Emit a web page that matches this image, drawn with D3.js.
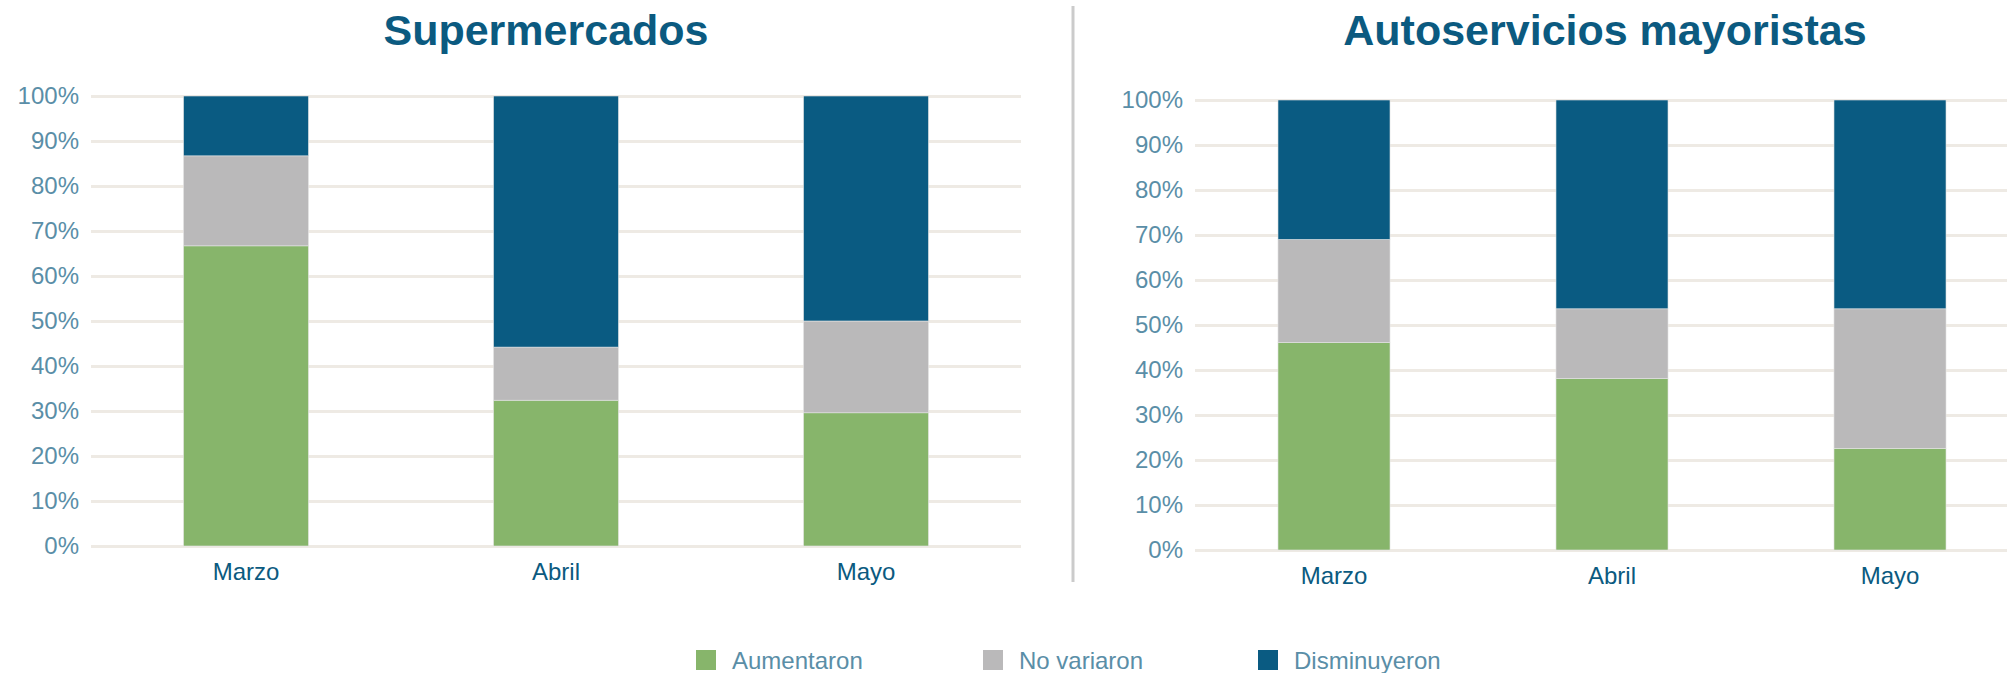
<!DOCTYPE html>
<html>
<head>
<meta charset="utf-8">
<script src="https://cdn.jsdelivr.net/npm/d3@7"></script>
<style>
  body { margin: 0; background: #fff; }
  svg text { font-family: "Liberation Sans", Arial, Helvetica, sans-serif; }
  .tick line { stroke: #eeeae4; stroke-width: 3; }
  .domain { display: none; }
</style>
</head>
<body>
<div id="chart"></div>
<script>
/* DATA */
const months = ["Marzo", "Abril", "Mayo"];
const seriesNames = ["Aumentaron", "No variaron", "Disminuyeron"];
const yTicks = [0, 10, 20, 30, 40, 50, 60, 70, 80, 90, 100];

// Supermercados (% of answers)
const superAumentaron = [66.7, 32.4, 29.6];
const superNoVariaron = [20.0, 11.8, 20.4];
const superDisminuyeron = [13.3, 55.8, 50.0];

// Autoservicios mayoristas
const mayorAumentaron = [46.1, 38.1, 22.6];
const mayorNoVariaron = [22.9, 15.5, 31.0];
const mayorDisminuyeron = [31.0, 46.4, 46.4];

/* CONSTANTS */
const width = 2007, height = 673;
const colors = ["#87b56b", "#bab9ba", "#0a5b82"];
const tickColor = "#5a8ea7";
const darkBlue = "#0b5a80";

const svg = d3.select("#chart")
  .append("svg")
    .attr("width", width)
    .attr("height", height);

const color = d3.scaleOrdinal().domain(seriesNames).range(colors);

function toRows(a, b, c) {
  return months.map((m, i) => ({
    month: m,
    "Aumentaron": a[i],
    "No variaron": b[i],
    "Disminuyeron": c[i]
  }));
}

function drawPanel(cfg) {
  const rows = toRows(cfg.a, cfg.b, cfg.c);
  const stacked = d3.stack().keys(seriesNames)(rows);

  const x = d3.scaleBand()
    .domain(months)
    .range([cfg.x0, cfg.x1])
    .paddingInner(0.597)
    .paddingOuter(0.2985);

  const y = d3.scaleLinear()
    .domain([0, 100])
    .range([cfg.y0, cfg.y1]);

  const g = svg.append("g");

  // gridlines + y labels
  g.append("g")
    .attr("transform", `translate(${cfg.x0},0)`)
    .call(d3.axisLeft(y)
      .tickValues(yTicks)
      .tickSize(-(cfg.x1 - cfg.x0))
      .tickPadding(12)
      .tickFormat(d => d + "%"))
    .call(ax => ax.selectAll("text")
      .attr("fill", tickColor)
      .style("font-size", "24px"));

  // bars
  g.append("g")
    .selectAll("g")
    .data(stacked)
    .join("g")
      .attr("fill", d => color(d.key))
    .selectAll("rect")
    .data(d => d)
    .join("rect")
      .attr("x", d => x(d.data.month))
      .attr("width", x.bandwidth())
      .attr("y", d => y(d[1]))
      .attr("height", d => y(d[0]) - y(d[1]))
      .attr("stroke", "#e4e4e4")
      .attr("stroke-width", 0.6);

  // month labels
  g.append("g")
    .selectAll("text")
    .data(months)
    .join("text")
      .attr("x", d => x(d) + x.bandwidth() / 2)
      .attr("y", cfg.y0 + 34)
      .attr("text-anchor", "middle")
      .attr("fill", darkBlue)
      .style("font-size", "24px")
      .text(d => d);

  // title
  g.append("text")
    .attr("x", cfg.titleX)
    .attr("y", 45)
    .attr("text-anchor", "middle")
    .attr("fill", darkBlue)
    .style("font-size", "43px")
    .style("font-weight", "bold")
    .text(cfg.title);
}

drawPanel({
  title: "Supermercados", titleX: 546,
  a: superAumentaron, b: superNoVariaron, c: superDisminuyeron,
  x0: 91, x1: 1021, y0: 546, y1: 96
});

drawPanel({
  title: "Autoservicios mayoristas", titleX: 1605,
  a: mayorAumentaron, b: mayorNoVariaron, c: mayorDisminuyeron,
  x0: 1195, x1: 2029, y0: 550, y1: 100
});

// divider
svg.append("line")
  .attr("x1", 1073).attr("x2", 1073)
  .attr("y1", 6).attr("y2", 582)
  .attr("stroke", "#cbcbcb")
  .attr("stroke-width", 3);

// legend
const legendX = [696, 983, 1258];
const legend = svg.append("g")
  .selectAll("g")
  .data(seriesNames)
  .join("g")
    .attr("transform", (d, i) => `translate(${legendX[i]},650)`);

legend.append("rect")
  .attr("width", 20)
  .attr("height", 20)
  .attr("fill", d => color(d));

legend.append("text")
  .attr("x", 36)
  .attr("y", 19)
  .attr("fill", tickColor)
  .style("font-size", "24px")
  .text(d => d);
</script>
</body>
</html>
